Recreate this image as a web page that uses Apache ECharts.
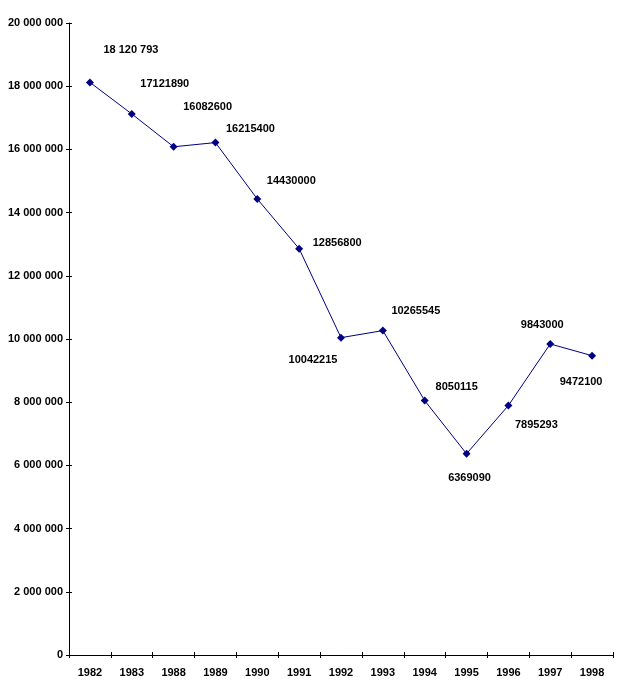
<!DOCTYPE html>
<html>
<head>
<meta charset="utf-8">
<script src="https://cdn.jsdelivr.net/npm/echarts@6/dist/echarts.min.js"></script>
<style>
html,body{margin:0;padding:0;background:#fff;}
#chart{width:618px;height:698px;}
</style>
</head>
<body>
<div id="chart"></div>
<script>
const years = ['1982','1983','1988','1989','1990','1991','1992','1993','1994','1995','1996','1997','1998'];
const values = [18120793,17121890,16082600,16215400,14430000,12856800,10042215,10265545,8050115,6369090,7895293,9843000,9472100];
const labelTexts = ['18 120 793','17121890','16082600','16215400','14430000','12856800','10042215','10265545','8050115','6369090','7895293','9843000','9472100'];
const yTicks = [0,2000000,4000000,6000000,8000000,10000000,12000000,14000000,16000000,18000000,20000000];

// label placement (px offsets from the marker), layout only
const labelOffsets = [[41,-32],[33,-30],[34,-40],[35,-14],[34,-18],[38,-6],[-28,22],[33,-20],[32,-14],[3,24],[28,19],[-8,-19],[-11,26]];

function fmtSpace(v){
  return String(v).replace(/\B(?=(\d{3})+(?!\d))/g,' ');
}

const fontFamily = '"Liberation Sans", Arial, sans-serif';
const chart = echarts.init(document.getElementById('chart'), null, {renderer:'canvas'});

const seriesData = values.map((v,i)=>({
  value: v,
  label: {
    show: true,
    position: 'inside',
    offset: labelOffsets[i],
    formatter: labelTexts[i],
    color: '#000',
    fontWeight: 'bold',
    fontSize: 11,
    fontFamily: fontFamily,
    align: 'center',
    verticalAlign: 'middle'
  }
}));

const yMin = yTicks[0], yMax = yTicks[yTicks.length-1], yInt = yTicks[1]-yTicks[0];

chart.setOption({
  animation: false,
  backgroundColor: '#fff',
  grid: {left: 69, right: 5, top: 23, bottom: 43, containLabel: false},
  xAxis: [{
    type: 'category',
    data: years,
    boundaryGap: true,
    axisLine: {show: true, lineStyle: {color: '#000', width: 1}},
    axisTick: {show: true, inside: false, length: 3, lineStyle: {color: '#000'}},
    axisLabel: {color: '#000', fontWeight: 'bold', fontSize: 11, fontFamily: fontFamily, margin: 12},
    splitLine: {show: false}
  },{
    type: 'category',
    data: years,
    position: 'bottom',
    boundaryGap: true,
    axisLine: {show: false},
    axisTick: {show: true, inside: true, length: 3, lineStyle: {color: '#000'}},
    axisLabel: {show: false},
    splitLine: {show: false}
  }],
  yAxis: [{
    type: 'value',
    min: yMin, max: yMax, interval: yInt,
    axisLine: {show: true, lineStyle: {color: '#000', width: 1}},
    axisTick: {show: true, inside: false, length: 3, lineStyle: {color: '#000'}},
    axisLabel: {color: '#000', fontWeight: 'bold', fontSize: 11, fontFamily: fontFamily, margin: 6, formatter: v => fmtSpace(v)},
    splitLine: {show: false}
  },{
    type: 'value',
    position: 'left',
    min: yMin, max: yMax, interval: yInt,
    axisLine: {show: false},
    axisTick: {show: true, inside: true, length: 3, lineStyle: {color: '#000'}},
    axisLabel: {show: false},
    splitLine: {show: false}
  }],
  series: [{
    type: 'line',
    data: seriesData,
    symbol: 'diamond',
    symbolSize: 8,
    lineStyle: {color: '#000080', width: 1},
    itemStyle: {color: '#000080'},
    emphasis: {disabled: true}
  }]
});
</script>
</body>
</html>
